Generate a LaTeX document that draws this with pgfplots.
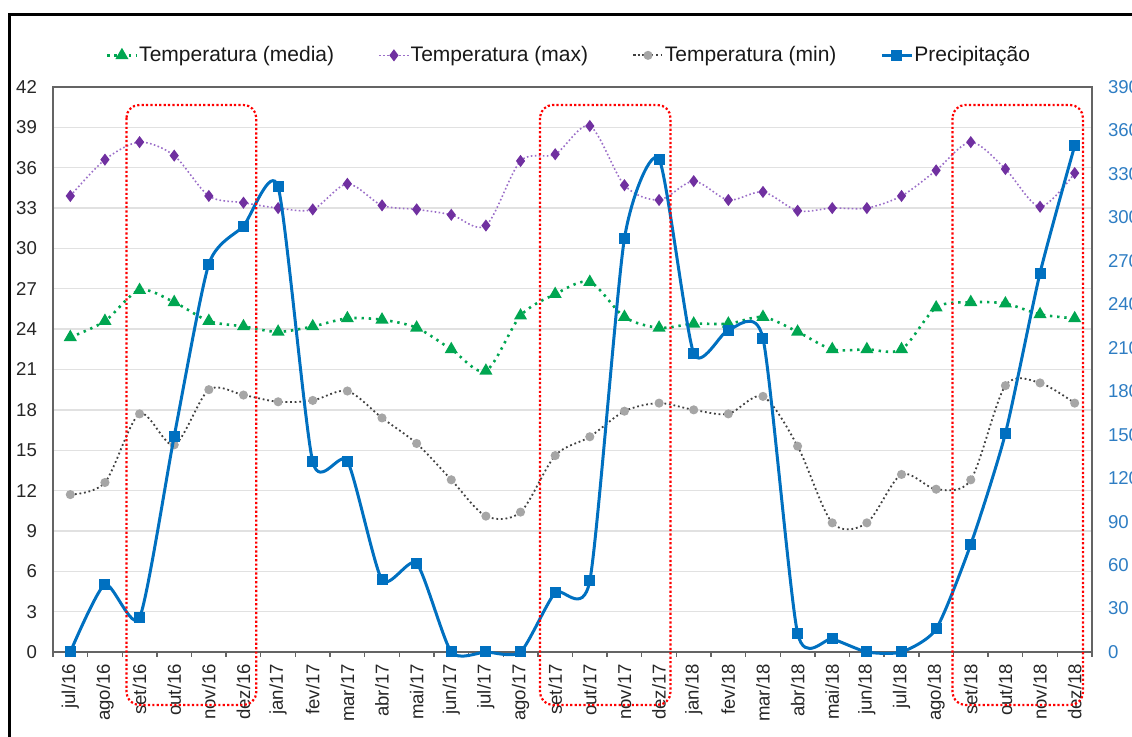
\documentclass[border=0pt]{standalone}
\usepackage{fontspec}
\setmainfont{Liberation Sans}
\usepackage{pgfplots}
\pgfplotsset{compat=1.18}
\usepackage{pgfplotstable}

\definecolor{cMed}{RGB}{0,166,81}
\definecolor{cMaxM}{RGB}{112,48,160}
\definecolor{cMaxL}{RGB}{155,110,200}
\definecolor{cMinM}{RGB}{166,166,166}
\definecolor{cMinL}{RGB}{64,64,64}
\definecolor{cPrec}{RGB}{0,112,192}
\definecolor{cRight}{RGB}{46,125,195}
\definecolor{cGrid}{RGB}{225,225,225}
\definecolor{cAxis}{RGB}{100,100,100}

% mes media max min precipitacao
\pgfplotstableread{
x media max min prec
0 23.4 33.9 11.7 0
1 24.6 36.6 12.6 46.7
2 26.9 37.9 17.7 23.7
3 26.0 36.9 15.4 149.0
4 24.6 33.9 19.5 267.8
5 24.2 33.4 19.1 294.0
6 23.8 33.0 18.6 321.0
7 24.2 32.9 18.7 131.3
8 24.8 34.8 19.4 131.8
9 24.7 33.2 17.4 49.7
10 24.1 32.9 15.5 61.2
11 22.5 32.5 12.8 0
12 20.9 31.7 10.1 0
13 25.0 36.5 10.4 0
14 26.6 37.0 14.6 40.9
15 27.5 39.1 16.0 49.2
16 24.9 34.7 17.9 285.5
17 24.1 33.6 18.5 340.2
18 24.4 35.0 18.0 206.1
19 24.4 33.6 17.7 222.2
20 24.9 34.2 19.0 216.5
21 23.8 32.8 15.3 12.9
22 22.5 33.0 9.6 9.0
23 22.5 33.0 9.6 0
24 22.5 33.9 13.2 0
25 25.6 35.8 12.1 15.9
26 26.0 37.9 12.8 74.3
27 25.9 35.9 19.8 150.9
28 25.1 33.1 20.0 261.6
29 24.8 35.6 18.5 349.4
}\dados

\tikzset{
  sMed/.style={cMed, line width=1.3pt, dash pattern=on 1.2pt off 2.4pt, smooth,
    mark=triangle*, mark size=2.5pt, mark options={solid, fill=cMed, draw=cMed}},
  sMax/.style={cMaxL, line width=0.8pt, dash pattern=on 0.8pt off 1.2pt, smooth,
    mark=diamond*, mark size=2.4pt, mark options={solid, fill=cMaxM, draw=cMaxM}},
  sMin/.style={cMinL, line width=0.9pt, dash pattern=on 0.9pt off 1.4pt, smooth,
    mark=*, mark size=1.8pt, mark options={solid, fill=cMinM, draw=cMinM}},
  sPrec/.style={cPrec, line width=1.5pt, smooth, tension=0.38,
    mark=square*, mark size=2pt, mark options={solid, fill=cPrec, draw=cPrec}},
  caixa/.style={red, line width=1.1pt, dash pattern=on 1.1pt off 1.1pt, rounded corners=6.5pt},
}

\begin{document}
\begin{tikzpicture}
\pgfplotsset{
  base/.style={
    at={(0,0)}, anchor=south west,
    width=519.5pt, height=282.5pt, scale only axis,
    xmin=-0.5, xmax=29.5,
    tick label style={font=\fontsize{9.3}{11}\selectfont},
    /pgf/number format/assume math mode=true,
    major tick length=0pt,
  },
}
\begin{axis}[base,
  ymin=0, ymax=42, ytick={0,3,...,42},
  ymajorgrids, grid style={cGrid, line width=0.7pt},
  axis line style={cAxis, line width=0.8pt},
  xtick={0,...,29},
  xticklabels={jul/16,ago/16,set/16,out/16,nov/16,dez/16,jan/17,fev/17,mar/17,abr/17,mai/17,jun/17,jul/17,ago/17,set/17,out/17,nov/17,dez/17,jan/18,fev/18,mar/18,abr/18,mai/18,jun/18,jul/18,ago/18,set/18,out/18,nov/18,dez/18},
  xticklabel style={rotate=90, anchor=east, text=black!85, xshift=-2.5pt},
  yticklabel style={text=black!85, xshift=-4.5pt},
  minor xtick={-0.5,0.5,...,29.5},
  minor tick length=2.5pt, tick align=outside,
  minor tick style={cAxis, line width=0.7pt},
  xtick pos=bottom, ytick pos=left,
  legend columns=4,
  legend style={at={(0.496,1.056)}, anchor=center, draw=none, fill=none,
    font=\fontsize{10.5}{12}\selectfont, text=black!90,
    nodes={inner xsep=0.5pt},
    /tikz/every even column/.append style={column sep=21.5pt}},
  legend image code/.code={\draw[mark repeat=2,mark phase=2] plot coordinates {(0pt,0pt) (7.5pt,0pt) (15pt,0pt)};},
]
\addplot[sMed] table[x=x, y=media] {\dados};
\addlegendentry{Temperatura (media)}
\addplot[sMax] table[x=x, y=max] {\dados};
\addlegendentry{Temperatura (max)}
\addplot[sMin] table[x=x, y=min] {\dados};
\addlegendentry{Temperatura (min)}
\addlegendimage{sPrec}
\addlegendentry{Precipitação}
\end{axis}

\begin{axis}[base,
  ymin=0, ymax=390, ytick={0,30,...,390},
  axis y line*=right, hide x axis,
  y axis line style={cAxis, line width=0.8pt},
  yticklabel style={text=cRight, xshift=4.5pt},
  clip=false,
]
\addplot[sPrec] table[x=x, y=prec] {\dados};
\draw[caixa] (axis cs:1.62,377.6) rectangle (axis cs:5.37,-36.6);
\draw[caixa] (axis cs:13.56,377.6) rectangle (axis cs:17.33,-36.6);
\draw[caixa] (axis cs:25.47,377.6) rectangle (axis cs:29.24,-36.6);
\end{axis}

\draw[black, line width=1.5pt] (-21.5pt,-60pt) -- (-21.5pt,318.5pt) -- (600pt,318.5pt);
\pgfresetboundingbox
\path[use as bounding box] (-26.5pt,-42.5pt) rectangle (539.5pt,326pt);
\end{tikzpicture}
\end{document}
